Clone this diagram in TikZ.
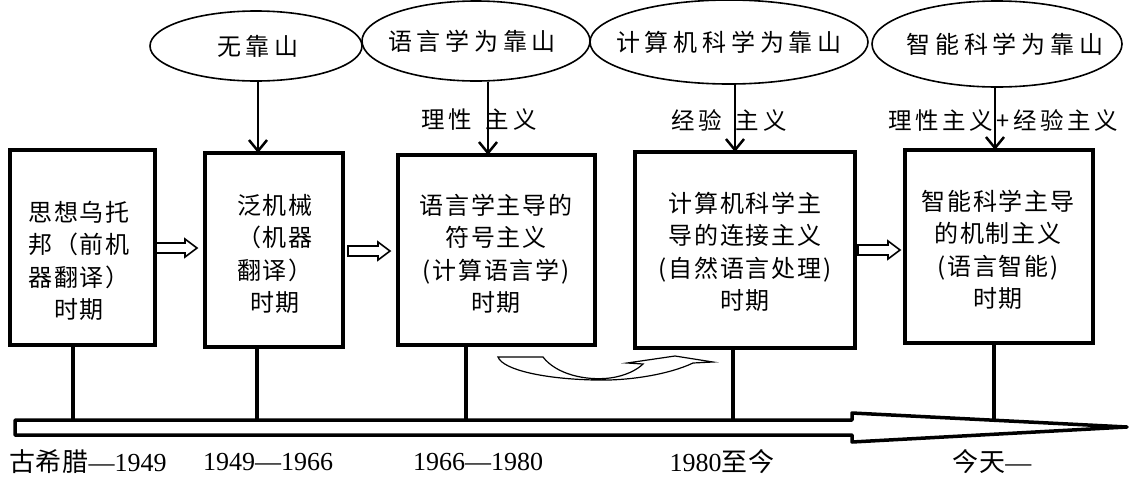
\documentclass[tikz,border=0pt]{standalone}
\usepackage{fontspec}
\setmainfont{Liberation Serif}
\newfontfamily\cjk[LetterSpace=8]{Noto Sans CJK SC}
\newfontfamily\cjkw[LetterSpace=20]{Noto Sans CJK SC}
\newfontfamily\cjkl[LetterSpace=15]{Noto Sans CJK SC}
\newfontfamily\cjkd[LetterSpace=2]{Noto Sans CJK SC}
\usetikzlibrary{arrows.meta,shapes.geometric}
\begin{document}
\begin{tikzpicture}[x=1pt,y=-1pt,
 periodbox/.style={draw,line width=4pt,inner sep=0pt,outer sep=0pt},
 boxtext/.style={align=center,font=\fontsize{24}{32.5}\selectfont\cjk,inner sep=0pt},
 basis/.style={draw,ellipse,line width=1.6pt,inner sep=0pt},
 basistext/.style={inner sep=0pt,font=\fontsize{24}{28}\selectfont\cjkw},
 downarr/.style={line width=2.5pt,-{Straight Barb[length=11pt,width=18pt]}},
 stemline/.style={line width=3.5pt},
 hollowarr/.style={draw,line width=1.6pt,line join=miter},
 mainlab/.style={font=\fontsize{23.5}{28}\selectfont\cjkl,inner sep=0pt},
 datelab/.style={font=\fontsize{26}{30}\selectfont,inner sep=0pt}]
\useasboundingbox (0,0) rectangle (1129,477);

% ellipses
\node[basis,minimum width=212pt,minimum height=70pt] (e1) at (256,46) {};
\node[basis,minimum width=228pt,minimum height=80pt] (e2) at (476,41) {};
\node[basis,minimum width=278pt,minimum height=84pt] (e3) at (729,42) {};
\node[basis,minimum width=250pt,minimum height=86pt] (e4) at (997,44) {};
\node[basistext] (et1) at ([xshift=2pt]e1.center) {无靠山};
\node[basistext] (et2) at ([xshift=-4pt]e2.center) {语言学为靠山};
\node[basistext] (et3) at (e3.center) {计算机科学为靠山};
\node[basistext] (et4) at ([xshift=8pt]e4.center) {智能科学为靠山};

% boxes
\node[periodbox,minimum width=145pt,minimum height=195pt] (b1) at (82.5,247.5) {};
\node[periodbox,minimum width=138pt,minimum height=194pt] (b2) at (274,250) {};
\node[periodbox,minimum width=197pt,minimum height=190pt] (b3) at (496.5,250) {};
\node[periodbox,minimum width=220pt,minimum height=196pt] (b4) at (745,250) {};
\node[periodbox,minimum width=188pt,minimum height=193pt] (b5) at (999,246.5) {};

\node[boxtext] (x1) at (79,261) {思想乌托\\邦（前机\\器翻译）\\时期};
\node[boxtext] (x2) at (275,254) {泛机械\\（机器\\翻译）\\时期};
\node[boxtext] (x3) at (496,254) {语言学主导的\\符号主义\\(计算语言学)\\时期};
\node[boxtext] (x4) at (745,252) {计算机科学主\\导的连接主义\\(自然语言处理)\\时期};
\node[boxtext] (x5) at (998,250) {智能科学主导\\的机制主义\\(语言智能)\\时期};

% labels above boxes
\node[mainlab] (l2) at (479,120) {理性\hspace{14pt}主义};
\node[mainlab] (l3) at (729,120) {经验\hspace{14pt}主义};
\node[mainlab] (l4) at (1003,120) {理性主义+经验主义};

% arrows from ellipses
\coordinate (s1) at ([xshift=2pt]e1.south);
\coordinate (s2) at ([xshift=12pt]e2.south);
\coordinate (s3) at ([xshift=6pt]e3.south);
\coordinate (s4) at ([xshift=-2pt]e4.south);
\draw[downarr] (s1) -- (s1 |- b2.north);
\draw[downarr] (s2) -- (s2 |- b3.north);
\draw[downarr] (s3) -- (s3 |- b4.north);
\draw[downarr] (s4) -- (s4 |- b5.north);

% hollow arrows between boxes
\draw[hollowarr] (b1.east |- 0,243) -- ++(30,0) -- ++(0,-4) -- ++(12,9) -- ++(-12,9) -- ++(0,-4) -- ++(-30,0) -- cycle;
\draw[hollowarr] (b2.east |- 0,246) ++(5,0) -- ++(30,0) -- ++(0,-4) -- ++(12,9) -- ++(-12,9) -- ++(0,-4) -- ++(-30,0) -- cycle;
\draw[hollowarr] (b4.east |- 0,245) ++(3,0) -- ++(30,0) -- ++(0,-4) -- ++(12,9) -- ++(-12,9) -- ++(0,-4) -- ++(-30,0) -- cycle;

% curved arrow
\draw[line width=1.2pt,line join=miter] (498,357) -- (543,357)
  .. controls (556,374) and (585,381) .. (610,378)
  .. controls (625,376) and (637,370) .. (643,364)
  -- (627,363) -- (675,356) -- (713,362) -- (693,363)
  .. controls (670,374) and (630,381) .. (595,380)
  .. controls (545,379) and (503,370) .. (498,357) -- cycle;

% timeline
\draw[line width=3.5pt,line join=round] (15,420) -- (852,420) -- (852,413) -- (1127,427) -- (852,442) -- (852,435) -- (15,435) -- cycle;
\coordinate (t1) at (73,420);
\coordinate (t2) at (257,420);
\coordinate (t3) at (466,420);
\coordinate (t4) at (733,420);
\coordinate (t5) at (994,420);
\draw[stemline] (b1.south -| t1) -- (t1);
\draw[stemline] (b2.south -| t2) -- (t2);
\draw[stemline] (b3.south -| t3) -- (t3);
\draw[stemline] (b4.south -| t4) -- (t4);
\draw[stemline] (b5.south -| t5) -- (t5);

% dates
\node[datelab] (d1) at (88,462) {{\cjkd 古希腊}—1949};
\node[datelab] (d2) at (268,462) {1949—1966};
\node[datelab] (d3) at (478,462) {1966—1980};
\node[datelab] (d4) at (722,462) {1980{\cjkd 至今}};
\node[datelab] (d5) at (992,462) {{\cjkd 今天}—};
\end{tikzpicture}
\end{document}
